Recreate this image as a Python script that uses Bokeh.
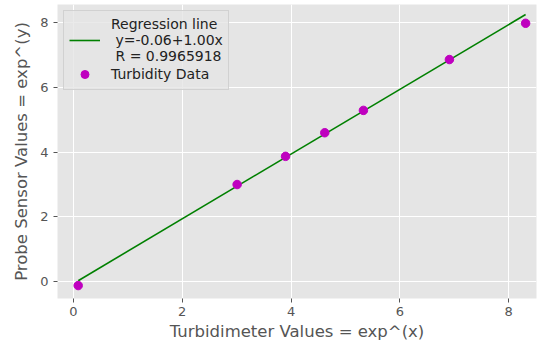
from bokeh.plotting import figure
from bokeh.models import Range1d, FixedTicker, Legend, LegendItem
from bokeh.embed import file_html
from bokeh.resources import INLINE

# Data
turbidimeter = [0.09, 3.01, 3.90, 4.62, 5.33, 6.91, 8.31]
probe_sensor = [-0.12, 3.00, 3.87, 4.60, 5.29, 6.86, 7.98]
reg_x = [0.09, 8.31]
reg_y = [0.03, 8.25]
ticks = [0, 2, 4, 6, 8]
reg_label = "Regression line\n y=-0.06+1.00x\n R = 0.9965918"
data_label = "Turbidity Data"

FONT = "DejaVu Sans"
GRAY = "#555555"

p = figure(width=542, height=345, output_backend="svg", toolbar_location=None,
           x_range=Range1d(-0.29, 8.51), y_range=Range1d(-0.52, 8.56),
           frame_width=479, frame_height=294)
p.min_border_left = 57
p.min_border_right = 6
p.min_border_top = 4
p.min_border_bottom = 47
p.background_fill_color = "#e5e5e5"
p.border_fill_color = "white"
p.outline_line_color = None

for ax in (p.xaxis[0], p.yaxis[0]):
    ax.ticker = FixedTicker(ticks=ticks)
    ax.axis_line_color = None
    ax.major_tick_line_color = GRAY
    ax.major_tick_out = 4
    ax.major_tick_in = 0
    ax.minor_tick_line_color = None
    ax.major_label_text_font = FONT
    ax.major_label_text_font_size = "13px"
    ax.major_label_text_color = GRAY
    ax.axis_label_text_font = FONT
    ax.axis_label_text_font_size = "16.5px"
    ax.axis_label_text_font_style = "normal"
    ax.axis_label_text_color = GRAY

p.xaxis.axis_label = "Turbidimeter Values = exp^(x)"
p.yaxis.axis_label = "Probe Sensor Values = exp^(y)"
p.xaxis.major_label_standoff = 4
p.xaxis.axis_label_standoff = 3
p.yaxis.major_label_standoff = 5
p.yaxis.axis_label_standoff = 6

p.xgrid.grid_line_color = "white"
p.ygrid.grid_line_color = "white"
p.xgrid.grid_line_width = 1
p.ygrid.grid_line_width = 1

r_line = p.line(reg_x, reg_y, line_color="#008000", line_width=1.6)
r_pts = p.scatter(turbidimeter, probe_sensor, size=8.5, fill_color="#bf00bf",
                  line_color="#bf00bf")

legend = Legend(items=[LegendItem(label=reg_label, renderers=[r_line]),
                       LegendItem(label=data_label, renderers=[r_pts])],
                location="top_left")
legend.label_text_font = FONT
legend.label_text_font_size = "14px"
legend.label_text_color = "#222222"
legend.background_fill_color = "#e5e5e5"
legend.background_fill_alpha = 0.8
legend.border_line_color = "#cccccc"
legend.border_line_alpha = 0.8
legend.glyph_width = 31
legend.label_standoff = 11
legend.padding = 5
legend.spacing = 0
legend.margin = 6
p.add_layout(legend)

open("out.html", "w").write(file_html(p, INLINE))
